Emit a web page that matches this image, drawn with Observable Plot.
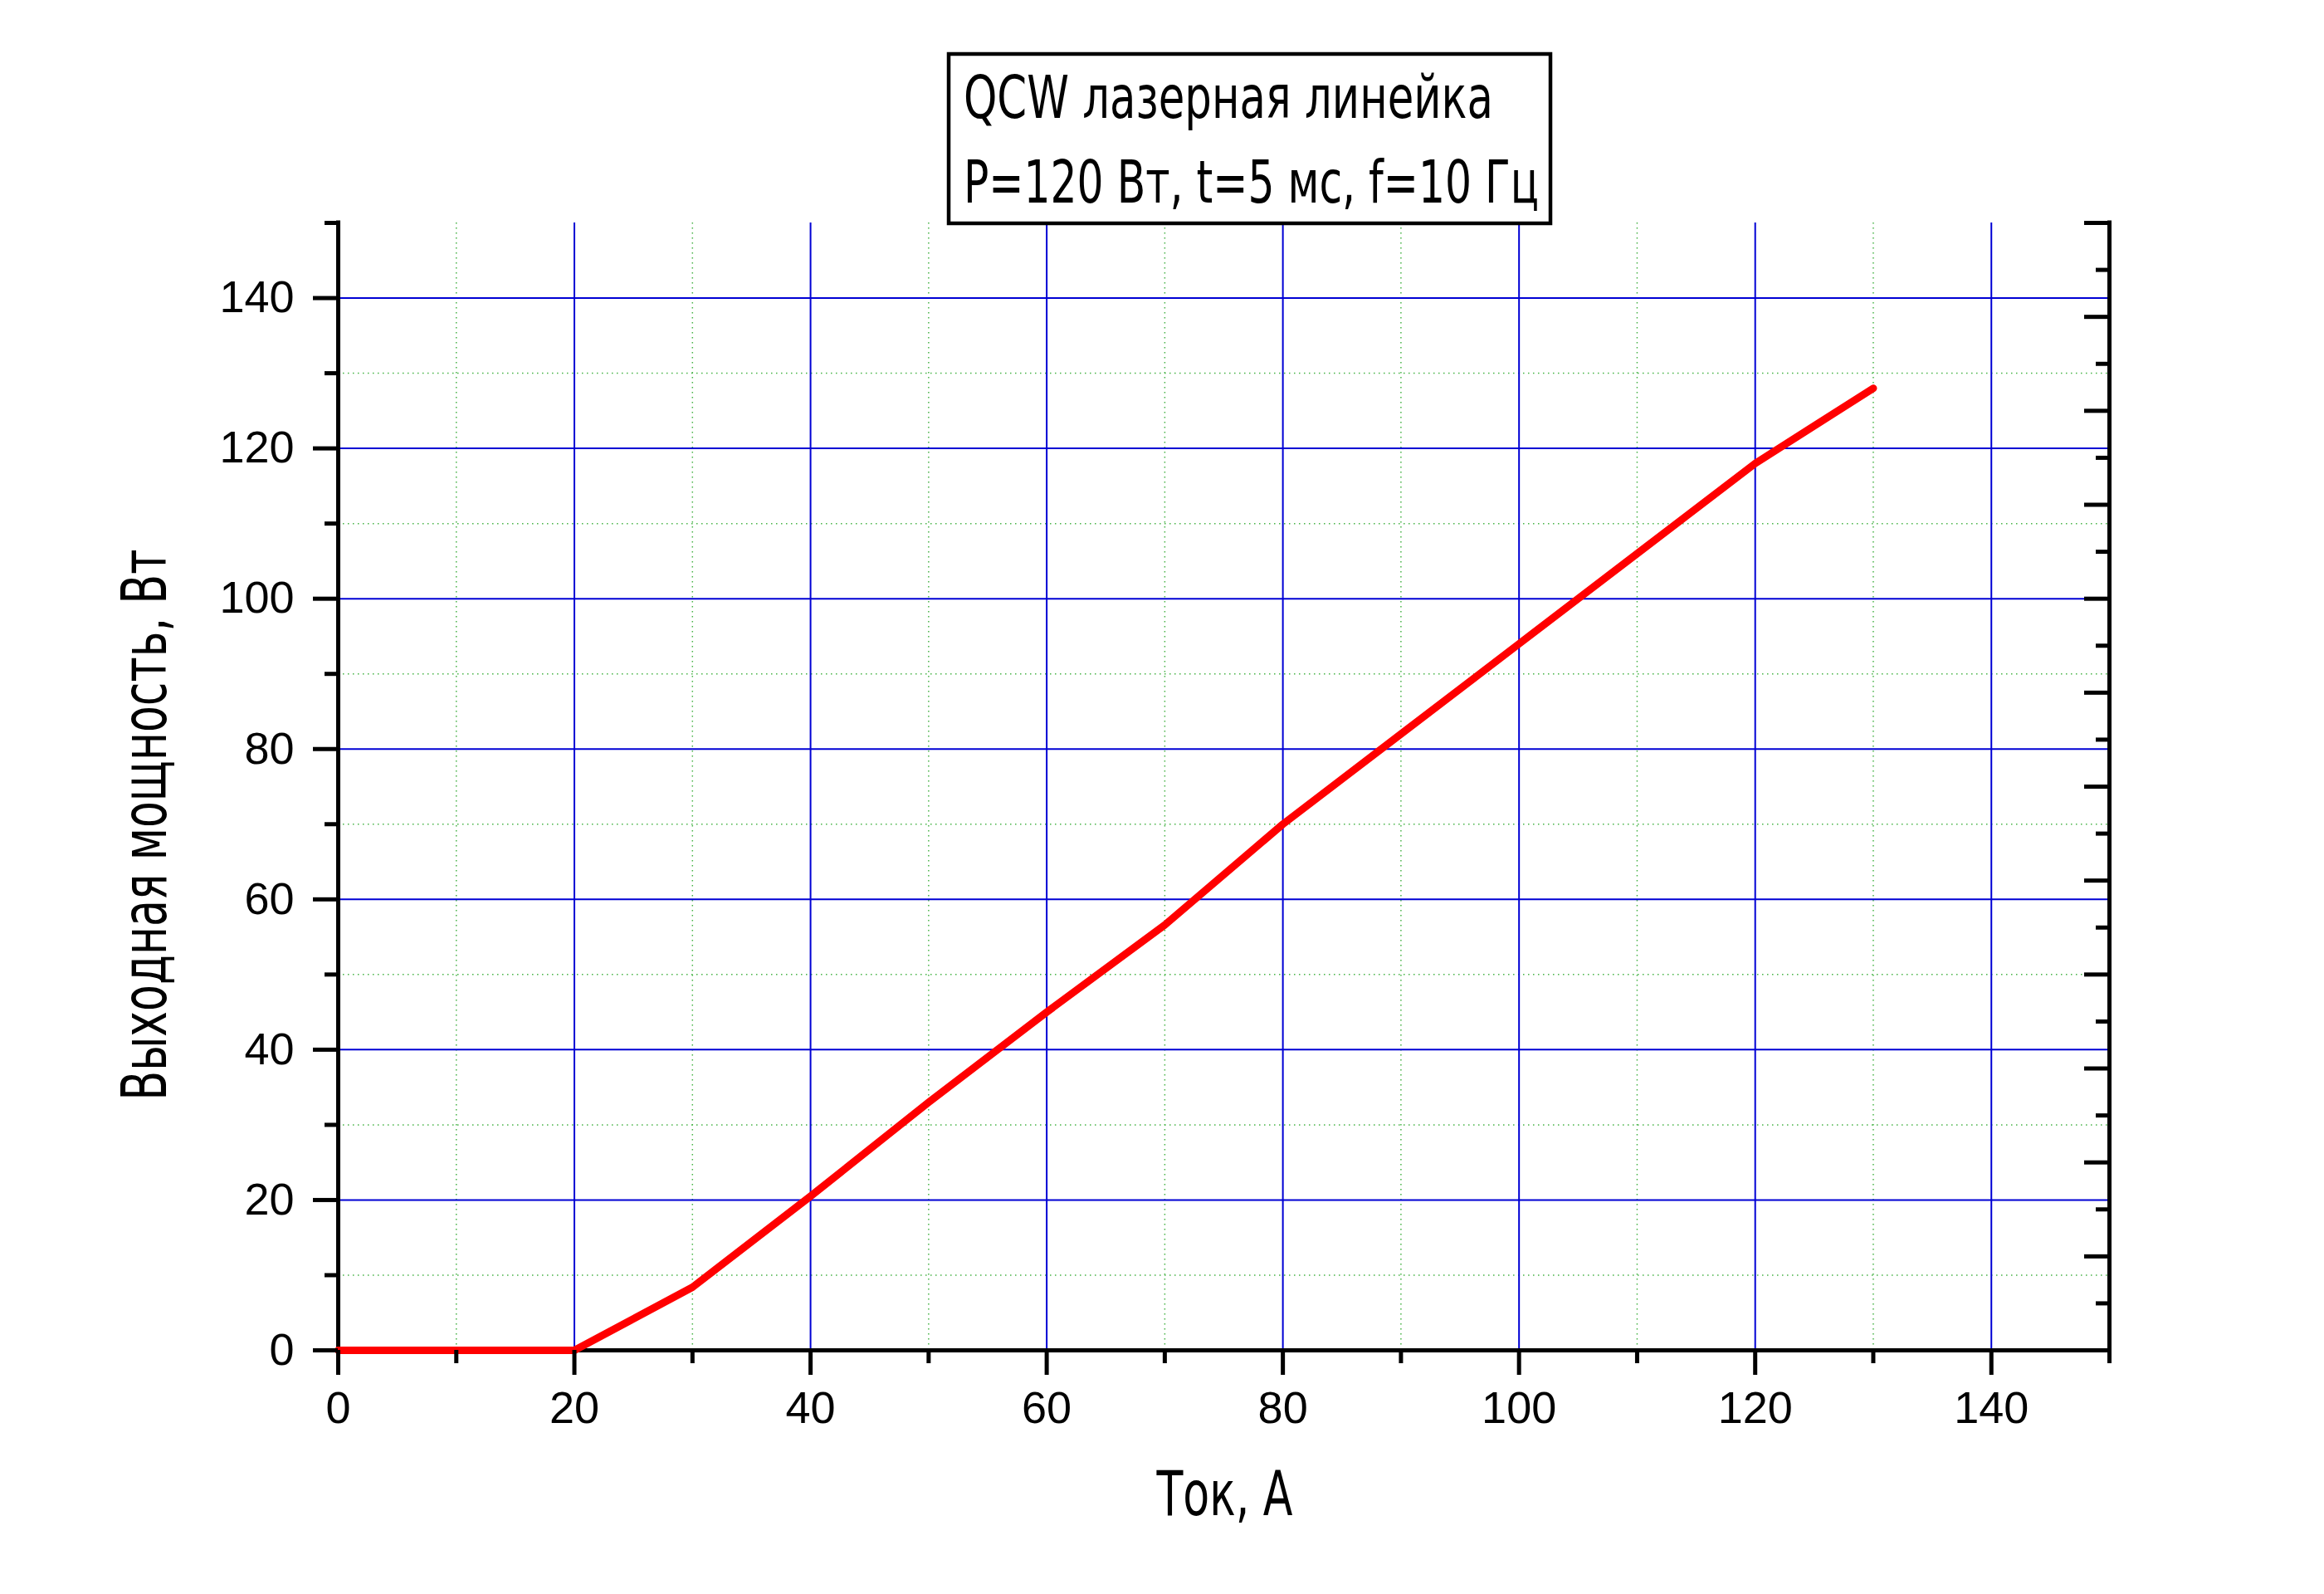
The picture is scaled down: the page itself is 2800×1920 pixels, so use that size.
<!DOCTYPE html>
<html>
<head>
<meta charset="utf-8">
<script src="https://cdn.jsdelivr.net/npm/d3@7"></script>
<script src="https://cdn.jsdelivr.net/npm/@observablehq/plot@0.6"></script>
<style>
  html, body { margin: 0; padding: 0; background: #fff; }
  #wrap { position: relative; width: 2800px; height: 1920px; background: #fff; color: #000; }
</style>
</head>
<body>
<div id="wrap"></div>
<script>
// ---- data ----
const current = [0, 10, 20, 30, 40, 50, 60, 70, 80, 90, 100, 110, 120, 130];
const power   = [0, 0, 0, 8.4, 20.5, 33, 45, 56.6, 70, 82, 94, 106, 118, 128];

const xMajorTicks = [0, 20, 40, 60, 80, 100, 120, 140];
const xMinorTicks = [10, 30, 50, 70, 90, 110, 130, 150];
const yMajorTicks = [0, 20, 40, 60, 80, 100, 120, 140];
const yMinorTicks = [10, 30, 50, 70, 90, 110, 130, 150];
const rightMajorTicks = [0, 12.5, 25, 37.5, 50, 62.5, 75, 87.5, 100, 112.5, 125, 137.5, 150];
const rightMinorTicks = [6.25, 18.75, 31.25, 43.75, 56.25, 68.75, 81.25, 93.75, 106.25, 118.75, 131.25, 143.75];

const titleLines = ["QCW лазерная линейка", "P=120 Вт, t=5 мс, f=10 Гц"];
const xLabel = "Ток, А";
const yLabel = "Выходная мощность, Вт";

const data = current.map((c, i) => ({current: c, power: power[i]}));

const tickFont = "'Liberation Sans', Arimo, Arial, sans-serif";
const gostFont = "'Liberation Sans Narrow', 'DejaVu Sans Condensed', 'Liberation Sans', sans-serif";
const blue = "#0000d4";
const green = "#47b347";

const chart = Plot.plot({
  width: 2800,
  height: 1920,
  marginLeft: 407,
  marginRight: 259,
  marginTop: 268,
  marginBottom: 294,
  style: {background: "#fff", color: "#000", overflow: "visible"},
  x: {domain: [0, 150]},
  y: {domain: [0, 150]},
  marks: [
    Plot.gridX(xMinorTicks.filter(v => v < 150), {stroke: green, strokeOpacity: 1, strokeWidth: 1.5, strokeDasharray: "1.5,4.5"}),
    Plot.gridY(yMinorTicks.filter(v => v < 150), {stroke: green, strokeOpacity: 1, strokeWidth: 1.5, strokeDasharray: "1.5,4.5"}),
    Plot.gridX(xMajorTicks.filter(v => v > 0), {stroke: blue, strokeOpacity: 1, strokeWidth: 2}),
    Plot.gridY(yMajorTicks.filter(v => v > 0), {stroke: blue, strokeOpacity: 1, strokeWidth: 2}),
    Plot.ruleX([0, 150], {stroke: "#000", strokeWidth: 5, strokeLinecap: "square"}),
    Plot.ruleY([0], {stroke: "#000", strokeWidth: 5, strokeLinecap: "square"}),
    Plot.line(data, {x: "current", y: "power", stroke: "#f00", strokeWidth: 9, strokeLinejoin: "round", strokeLinecap: "round"}),
    Plot.axisX(xMajorTicks, {anchor: "bottom", tickSize: 30, tickPadding: 19, strokeWidth: 5, fontSize: 54, fontFamily: tickFont, label: null}),
    Plot.axisX(xMinorTicks, {anchor: "bottom", tickSize: 16, strokeWidth: 5, fill: "none", label: null}),
    Plot.axisY(yMajorTicks, {anchor: "left", tickSize: 30, tickPadding: 23, strokeWidth: 5, fontSize: 54, fontFamily: tickFont, label: null}),
    Plot.axisY(yMinorTicks, {anchor: "left", tickSize: 16, strokeWidth: 5, fill: "none", label: null}),
    Plot.axisY(rightMajorTicks, {anchor: "left", frameAnchor: "right", tickSize: 30, strokeWidth: 5, fill: "none", label: null}),
    Plot.axisY(rightMinorTicks, {anchor: "left", frameAnchor: "right", tickSize: 16, strokeWidth: 5, fill: "none", label: null}),
    Plot.text([xLabel], {frameAnchor: "bottom", textAnchor: "start", dx: -81, dy: 198, fontSize: 74, fontFamily: gostFont, fill: "#000"}),
    Plot.text([yLabel], {frameAnchor: "left", rotate: -90, textAnchor: "start", dx: -231, dy: 378, fontSize: 74, fontFamily: gostFont, fill: "#000"})
  ]
});

// force the narrow drafting-font widths of the axis titles
const svg = d3.select(chart);
svg.selectAll("text").filter(function () { return this.textContent === xLabel; })
  .attr("text-anchor", "start").attr("textLength", 164).attr("lengthAdjust", "spacingAndGlyphs");
svg.selectAll("text").filter(function () { return this.textContent === yLabel; })
  .attr("text-anchor", "start").attr("textLength", 664).attr("lengthAdjust", "spacingAndGlyphs");

const wrap = document.getElementById("wrap");
wrap.appendChild(chart);

// title box above the plot frame
const ov = d3.select(wrap).append("svg")
  .attr("width", 2800).attr("height", 1920)
  .style("position", "absolute").style("left", "0px").style("top", "0px")
  .style("pointer-events", "none");
ov.append("rect")
  .attr("x", 1143).attr("y", 65).attr("width", 725).attr("height", 204)
  .attr("fill", "#fff").attr("stroke", "#000").attr("stroke-width", 4.5);
const titleY = [141.7, 244];
const titleW = [638, 693];
titleLines.forEach((t, i) => {
  ov.append("text")
    .attr("x", 1161).attr("y", titleY[i])
    .attr("font-family", gostFont).attr("font-size", 71)
    .attr("fill", "#000")
    .attr("textLength", titleW[i]).attr("lengthAdjust", "spacingAndGlyphs")
    .text(t);
});
</script>
</body>
</html>
